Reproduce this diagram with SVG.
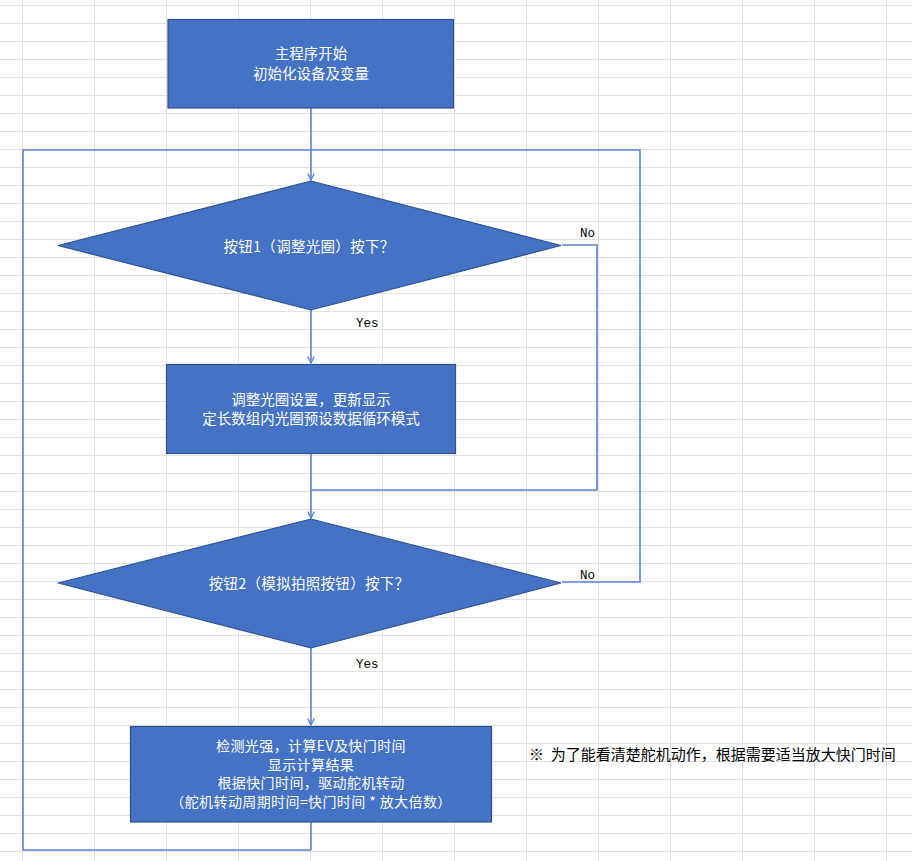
<svg xmlns="http://www.w3.org/2000/svg" width="912" height="861" viewBox="0 0 912 861">
<style>
.node{fill:#4472C4;stroke:#2F528F;stroke-width:1.2}
.t{font-family:"Noto Sans CJK SC","Liberation Sans",sans-serif;font-size:14.5px;fill:#ffffff;text-anchor:middle;dominant-baseline:central}
.t2{font-family:"Noto Sans CJK SC","Liberation Sans",sans-serif;font-size:14px;fill:#ffffff;text-anchor:middle;dominant-baseline:central}
.lbl{font-family:"Liberation Mono","Noto Sans CJK SC",monospace;font-size:12.5px;fill:#000000}
.note{font-family:"Noto Sans CJK SC","Liberation Sans",sans-serif;font-size:15px;fill:#000000;dominant-baseline:central}
.c{fill:none;stroke:#5B84D0;stroke-width:1.6}
</style>
<defs>
<pattern id="grid" patternUnits="userSpaceOnUse" x="22" y="5" width="72" height="18">
<path d="M0 0.5H72M0.5 0V18" fill="none" stroke="#e1e1e1" stroke-width="1"/>
</pattern>
<marker id="arr" viewBox="0 0 10 10" refX="9" refY="5" markerWidth="8" markerHeight="8" markerUnits="userSpaceOnUse" orient="auto">
<path d="M1 1L9 5L1 9" fill="none" stroke="#5B84D0" stroke-width="1.6"/>
</marker>
</defs>
<rect width="912" height="861" fill="#ffffff"/>
<rect width="912" height="861" fill="url(#grid)"/>
<g id="connectors">
<path class="c" d="M311 108V180" marker-end="url(#arr)"/>
<path class="c" d="M311 850H23V150H311"/>
<path class="c" d="M562 582H640V150H311"/>
<path class="c" d="M311 310V363" marker-end="url(#arr)"/>
<path class="c" d="M311 453V518" marker-end="url(#arr)"/>
<path class="c" d="M562 245H597V490H311"/>
<path class="c" d="M311 648V725" marker-end="url(#arr)"/>
<path class="c" d="M311 822V850"/>
</g>
<g id="start">
<rect class="node" x="168" y="19.5" width="285.5" height="88.5"/>
<text class="t" x="311" y="52">主程序开始</text>
<text class="t" x="311" y="72">初始化设备及变量</text>
</g>
<g id="decision1">
<polygon class="node" points="311,181 561,245.5 311,310 58,245.5"/>
<text class="t" x="309" y="245" letter-spacing="0.3">按钮1（调整光圈）按下？</text>
</g>
<g id="adjust">
<rect class="node" x="166.5" y="364.5" width="289" height="89"/>
<text class="t" x="311" y="398">调整光圈设置，更新显示</text>
<text class="t" x="311" y="417">定长数组内光圈预设数据循环模式</text>
</g>
<g id="decision2">
<polygon class="node" points="311,519 561,583 311,648 58,583"/>
<text class="t" x="309" y="582" letter-spacing="0.3">按钮2（模拟拍照按钮）按下？</text>
</g>
<g id="measure">
<rect class="node" x="130.5" y="726.5" width="361" height="95.5"/>
<text class="t2" x="311" y="745" letter-spacing="0.4">检测光强，计算EV及快门时间</text>
<text class="t2" x="311" y="763.5" letter-spacing="0.4">显示计算结果</text>
<text class="t2" x="311" y="782" letter-spacing="0.4">根据快门时间，驱动舵机转动</text>
<text class="t2" x="311" y="800.5" letter-spacing="0.4">（舵机转动周期时间=快门时间 * 放大倍数）</text>
</g>
<g id="labels">
<text class="lbl" x="580" y="237">No</text>
<text class="lbl" x="580" y="579">No</text>
<text class="lbl" x="356" y="327">Yes</text>
<text class="lbl" x="356" y="668">Yes</text>
</g>
<text class="note" x="529" y="753" xml:space="preserve">※  为了能看清楚舵机动作，根据需要适当放大快门时间</text>
</svg>
